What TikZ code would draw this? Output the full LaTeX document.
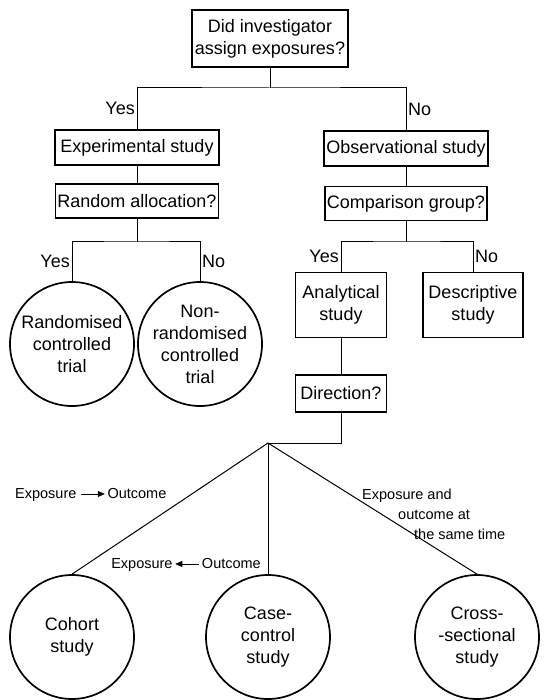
\documentclass[tikz,border=0pt]{standalone}
\usepackage{fontspec}
\setmainfont{Liberation Sans}
\usetikzlibrary{arrows.meta}
\tikzset{
  qbox/.style={draw, line width=1.6pt, inner sep=2pt, align=center,
    font=\fontsize{18}{22}\selectfont},
  endpoint/.style={draw, circle, line width=1.7pt, minimum size=124pt,
    inner sep=0pt, align=center, font=\fontsize{18}{22}\selectfont},
  answer/.style={inner sep=2pt, font=\fontsize{18}{22}\selectfont},
  timing/.style={inner sep=0pt, align=left, font=\fontsize{14.5}{20}\selectfont},
  link/.style={line width=1pt}
}
\newcommand{\fwdarrow}{\tikz[baseline=-0.6ex]\draw[line width=0.6pt,-{Triangle[length=7pt,width=6pt]}] (0pt,0pt) -- (24pt,0pt);}
\newcommand{\bwdarrow}{\tikz[baseline=-0.6ex]\draw[line width=0.6pt,{Triangle[length=7pt,width=6pt]}-] (0pt,0pt) -- (24pt,0pt);}
\begin{document}
\begin{tikzpicture}[x=1pt,y=-1pt]
  \useasboundingbox (0,0) rectangle (555,700);
  % questions and study types
  \node[qbox, minimum width=156pt, minimum height=57pt] (assign) at (270,38.5) {Did investigator\\assign exposures?};
  \node[qbox, minimum width=164pt, minimum height=35pt] (exper) at (137,147.5) {Experimental study};
  \node[qbox, minimum width=162pt, minimum height=34pt] (random) at (137,201) {Random allocation?};
  \node[qbox, minimum width=164pt, minimum height=35pt] (observ) at (406,148.5) {Observational study};
  \node[qbox, minimum width=162pt, minimum height=34pt] (compar) at (406,203.5) {Comparison group?};
  \node[qbox, minimum width=91pt, minimum height=65pt] (analyt) at (341,305) {Analytical\\study};
  \node[qbox, minimum width=100pt, minimum height=65pt] (descr) at (473,305) {Descriptive\\study};
  \node[qbox, minimum width=91pt, minimum height=37pt] (direct) at (341,393.5) {Direction?};
  % end points
  \node[endpoint] (rct) at (72,344) {Randomised\\controlled\\trial};
  \node[endpoint] (nrct) at (200,344) {Non-\\randomised\\controlled\\trial};
  \node[endpoint] (cohort) at (72,637) {Cohort\\study};
  \node[endpoint] (casec) at (268,637) {Case-\\control\\study};
  \node[endpoint] (cross) at (477,637) {Cross-\\-sectional\\study};
  % branch points
  \coordinate (split1) at (270,88);
  \coordinate (split2) at (137,242);
  \coordinate (split3) at (406,242);
  \coordinate (split4) at (268,443);
  \begin{scope}[link]
    \draw (assign) -- (split1);
    \draw (exper.north) |- (split1) -| (observ.north);
    \draw (exper) -- (random);
    \draw (observ) -- (compar);
    \draw (random) -- (split2);
    \draw (rct.north) |- (split2) -| (nrct.north);
    \draw (compar) -- (split3);
    \draw (analyt.north) |- (split3) -| (descr.north);
    \draw (analyt) -- (direct);
    \draw (direct.south) |- (split4);
    \draw (split4) -- (cohort.north);
    \draw (split4) -- (casec.north);
    \draw (split4) -- (cross.north);
  \end{scope}
  % answers
  \path (exper.north) -- (exper.north |- split1) node[answer, midway, left] (yes1) {Yes};
  \path (observ.north) -- (observ.north |- split1) node[answer, midway, right] (no1) {No};
  \path (rct.north) -- (rct.north |- split2) node[answer, midway, left] (yes2) {Yes};
  \path (nrct.north) -- (nrct.north |- split2) node[answer, midway, right] (no2) {No};
  \path (analyt.north) -- (analyt.north |- split3) node[answer, midway, left] (yes3) {Yes};
  \path (descr.north) -- (descr.north |- split3) node[answer, midway, right] (no3) {No};
  % time order
  \node[timing, anchor=west] (prosp) at (15,495) {Exposure \fwdarrow\,Outcome};
  \node[timing, anchor=east] (retro) at (261,565) {Exposure\,\bwdarrow\,Outcome};
  \node[timing, anchor=north west] (same) at (362,489) {Exposure and\\\hspace*{36pt}outcome at\\\hspace*{52pt}the same time};
\end{tikzpicture}
\end{document}
